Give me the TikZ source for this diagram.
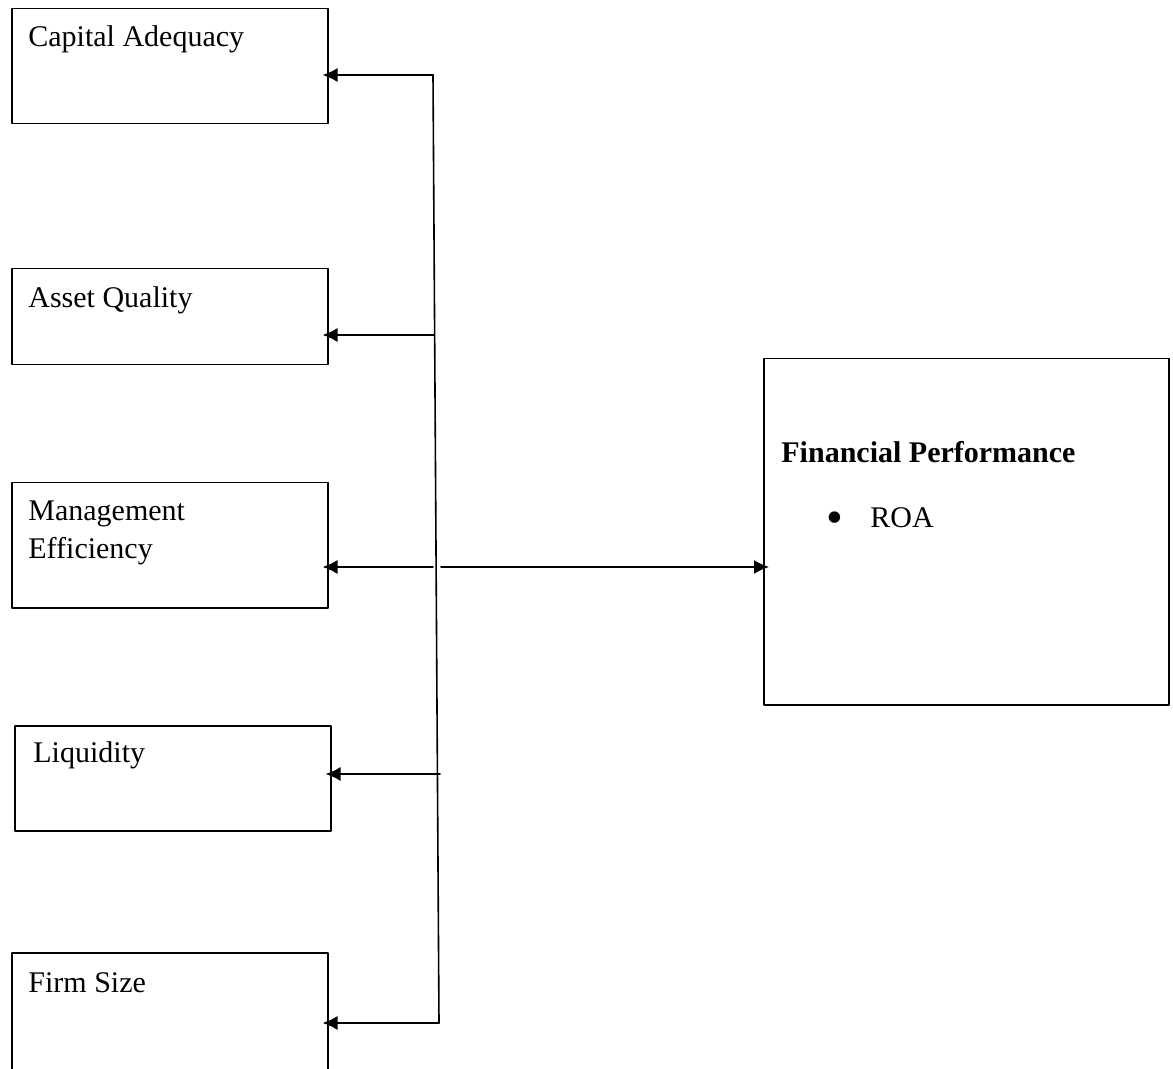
\documentclass[tikz,border=0pt]{standalone}
\usepackage{fontspec}
\setmainfont{Liberation Serif}
\usetikzlibrary{arrows.meta}

\begin{document}
\begin{tikzpicture}[x=0.5pt,y=-0.5pt,>={Latex[length=7.5pt,width=7pt]},line cap=round,line join=round]
  \tikzset{factor/.style={draw,line width=0.75pt,anchor=north west,inner sep=0pt,minimum width=158pt},
           caption/.style={anchor=base west,inner sep=0pt,font=\fontsize{15}{19}\selectfont},
           link/.style={->,line width=0.8pt,shorten >=-3pt}}

  \path[use as bounding box] (0,0) rectangle (1173,1069);
  \clip (0,0) rectangle (1173,1069);

  % boxes
  \node[factor,minimum height=57.5pt] (capital) at (11,8) {};
  \node[factor,minimum height=48pt] (asset) at (11,268) {};
  \node[factor,minimum height=62.5pt] (mgmt) at (11,482) {};
  \node[factor,minimum height=52.5pt] (liquid) at (14,725) {};
  \node[factor,minimum height=64pt] (size) at (11,952) {};
  \node[factor,minimum width=202.5pt,minimum height=173pt] (perf) at (763,358) {};

  % texts
  \node[caption] (capitaltxt) at (28,47) {Capital Adequacy};
  \node[caption] (assettxt) at (28,308) {Asset Quality};
  \node[caption] (mgmttxt) at (28,521) {Management};
  \node[caption] (efftxt) at (28,559) {Efficiency};
  \node[caption] (liquidtxt) at (33,762) {Liquidity};
  \node[caption] (sizetxt) at (28,992) {Firm Size};
  \node[caption,font=\fontsize{15}{19}\selectfont\bfseries] (perftxt) at (781,463) {Financial Performance};
  \node[caption] (roatxt) at (826,528) {\makebox[22pt][l]{\raisebox{-3pt}{\fontsize{24}{19}\selectfont\textbullet}}ROA};

  % connectors
  \coordinate (top) at (433,75);
  \coordinate (bottom) at (439,1023);
  \coordinate (j2) at (434,335);
  \coordinate (j3) at (433,567);
  \coordinate (j3r) at (441,567);
  \coordinate (j4) at (440,774);
  \draw[line width=0.8pt] (top) -- (bottom);
  \draw[link] (top) -- (top -| capital.east);
  \draw[link] (j2) -- (j2 -| asset.east);
  \draw[link] (j3) -- (j3 -| mgmt.east);
  \draw[link] (j4) -- (j4 -| liquid.east);
  \draw[link] (bottom) -- (bottom -| size.east);
  \draw[link] (j3r) -- (j3r -| perf.west);
\end{tikzpicture}
\end{document}
